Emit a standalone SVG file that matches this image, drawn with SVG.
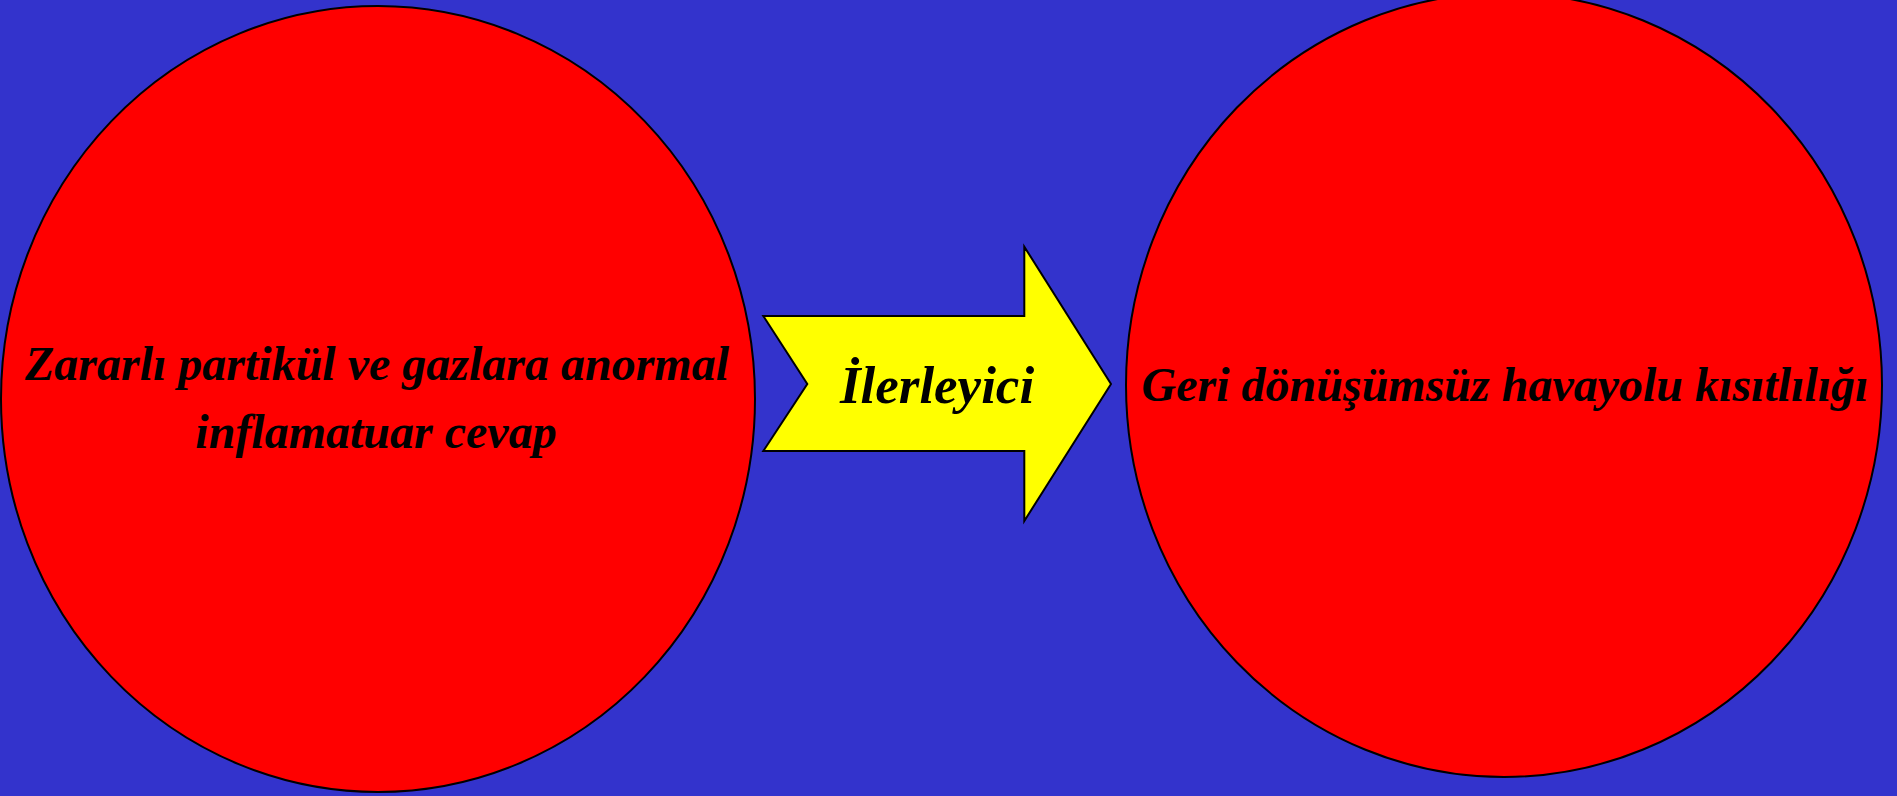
<svg xmlns="http://www.w3.org/2000/svg" width="1897" height="796" viewBox="0 0 1897 796">
<style>
.node{fill:#FF0000;stroke:#000;stroke-width:2}
.arrow{fill:#FFFF00;stroke:#000;stroke-width:2;stroke-linejoin:miter}
.t{font-family:"Liberation Serif","Times New Roman",serif;font-weight:bold;font-style:italic;font-size:48px;fill:#000;text-anchor:middle}
</style>
<rect x="0" y="0" width="1897" height="796" fill="#3333CC"/>
<g id="node-left">
<ellipse class="node" cx="378" cy="399" rx="377" ry="393"/>
<text class="t" x="377" y="380">Zararlı partikül ve gazlara anormal</text>
<text class="t" x="376" y="448">inflamatuar cevap</text>
</g>
<g id="connectors">
<g id="arrow-progressive">
<polygon class="arrow" points="763.3,316 1024.3,316 1024.3,246.7 1111,384 1024.3,521 1024.3,451 763.3,451 807.3,384"/>
<text class="t" x="937" y="403" style="font-size:53px">İlerleyici</text>
</g>
</g>
<g id="node-right">
<ellipse class="node" cx="1504" cy="385" rx="378" ry="392"/>
<text class="t" x="1505" y="401">Geri dönüşümsüz havayolu kısıtlılığı</text>
</g>
</svg>
